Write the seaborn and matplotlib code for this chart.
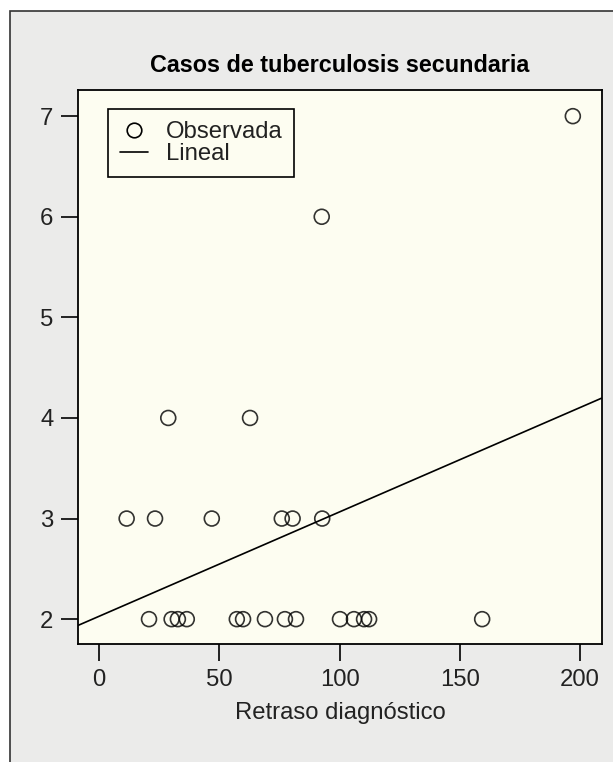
import matplotlib
matplotlib.use("Agg")
import matplotlib.pyplot as plt
import seaborn as sns
import pandas as pd
from matplotlib.patches import Rectangle
from matplotlib.lines import Line2D

# Data
retraso = [20.8, 30.2, 32.8, 36.5, 57.3, 59.9, 69.0, 77.3, 81.9, 100.2, 106.0, 110.2, 112.3, 159.3,
           11.5, 23.3, 46.9, 76.0, 80.5, 92.8,
           28.8, 62.8,
           92.6,
           197.0]
casos = [2] * 14 + [3] * 6 + [4] * 2 + [6] + [7]
x_ticks = [0, 50, 100, 150, 200]
y_ticks = [2, 3, 4, 5, 6, 7]
title = "Casos de tuberculosis secundaria"
xlabel = "Retraso diagnóstico"
legend_labels = ["Observada", "Lineal"]

df = pd.DataFrame({"Retraso": retraso, "Casos": casos})

sns.set_theme(style="white")
plt.rcParams['font.family'] = ['Liberation Sans', 'DejaVu Sans']

fig = plt.figure(figsize=(6.13, 7.62), dpi=100, facecolor="white")
# outer gray panel with border
fig.add_artist(Rectangle((10 / 613, -0.1), 1.2, (762 - 11) / 762 + 0.1,
                         transform=fig.transFigure, facecolor="#EBEBEA",
                         edgecolor="#333333", linewidth=1.2, zorder=-10))

ax = fig.add_axes([78.3 / 613, (762 - 644.3) / 762, (601.7 - 78.3) / 613, (644.3 - 90) / 762])
ax.set_zorder(1)
ax.set_facecolor("#FDFDF1")
ax.set_xlim(-8.6, 209)
ax.set_ylim(1.75, 7.26)

sns.regplot(data=df, x="Retraso", y="Casos", ax=ax, ci=None, truncate=False,
            scatter_kws=dict(s=115, facecolors="none", edgecolors="black", linewidths=1.2, zorder=3),
            line_kws=dict(color="black", linewidth=1.2, zorder=2))

ax.set_xticks(x_ticks)
ax.set_yticks(y_ticks)
ax.tick_params(axis="both", direction="out", length=12.5, width=1.2, color="black",
               labelsize=17.2, labelcolor="#222222", pad=5.5, bottom=True, left=True)
for s in ax.spines.values():
    s.set_visible(True)
    s.set_color("black")
    s.set_linewidth(1.3)

ax.set_xlabel(xlabel, fontsize=17.2, color="#222222", labelpad=7.5)
ax.set_ylabel("")
ax.set_title(title, fontsize=16.8, fontweight="bold", color="black", pad=13)

handles = [Line2D([], [], marker="o", linestyle="none", markerfacecolor="none",
                  markeredgecolor="black", markersize=10.5, markeredgewidth=1.2),
           Line2D([], [], color="black", linewidth=1.2)]
leg = ax.legend(handles, legend_labels, loc="upper left", bbox_to_anchor=(0.0573, 0.9652),
                borderaxespad=0, fontsize=17.2, frameon=True, fancybox=False,
                handlelength=1.15, handletextpad=0.75, labelspacing=0.0, borderpad=0.5)
leg.get_frame().set_edgecolor("black")
leg.get_frame().set_linewidth(1.2)
leg.get_frame().set_facecolor("#FDFDF1")
leg.get_frame().set_alpha(1)
for t in leg.get_texts():
    t.set_color("#222222")

fig.savefig("out.png", dpi=100)
